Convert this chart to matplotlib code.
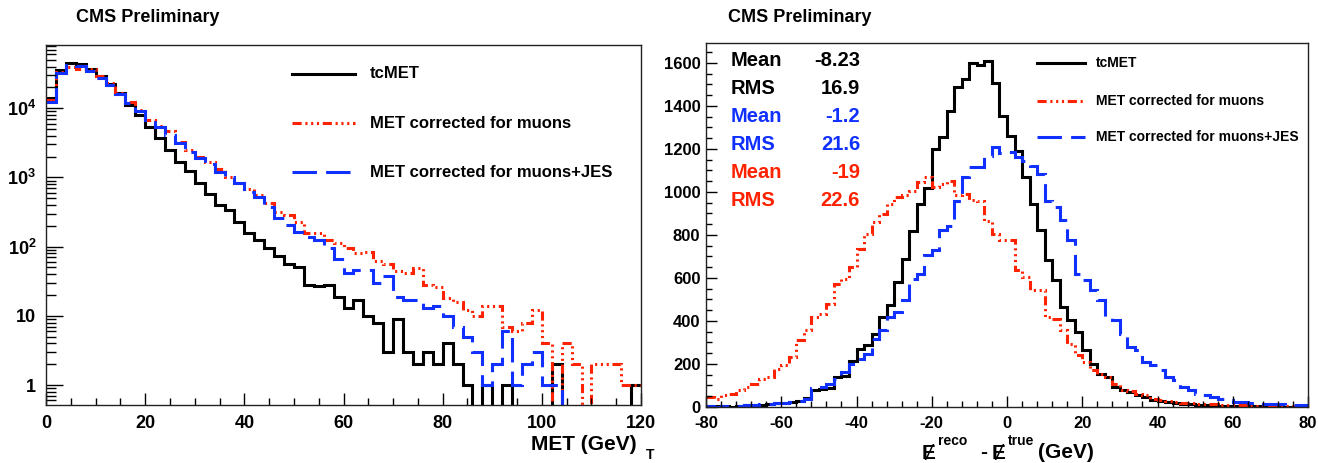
import numpy as np
import matplotlib
matplotlib.use('Agg')
from matplotlib import pyplot as plt
from matplotlib.ticker import MultipleLocator, FixedLocator, FuncFormatter, LogLocator, NullFormatter

plt.rcParams['font.family'] = ['Liberation Sans', 'DejaVu Sans']
plt.rcParams['font.weight'] = 'bold'
plt.rcParams['axes.unicode_minus'] = False
plt.rcParams['mathtext.fontset'] = 'custom'
plt.rcParams['mathtext.rm'] = 'Liberation Sans:bold'
plt.rcParams['mathtext.it'] = 'Liberation Sans:bold'
plt.rcParams['mathtext.bf'] = 'Liberation Sans:bold'

# ---- left panel: MET spectra, 2 GeV bins, 0-120 GeV
met_edges = np.arange(0, 122, 2)
met_tc = [13960, 35800, 44700, 43700, 36600, 29700, 22200, 16500, 11200, 8000,
          5430, 3680, 2500, 1695, 1256, 842, 577, 400, 339, 230,
          156, 125, 95, 72, 56, 51, 28, 27, 28, 19,
          13, 17, 10, 8, 3, 9, 3, 2, 3, 2,
          4, 2, 1, 0, 1, 0, 1, 0, 0, 0,
          0, 2, 0, 0, 0, 0, 0, 0, 0, 1]
met_mu = [13000, 33000, 40000, 37000, 36600, 29000, 23000, 16500, 12500, 9450,
          6780, 5550, 4700, 3300, 2500, 1990, 1680, 1340, 1030, 840,
          690, 560, 420, 320, 285, 228, 155, 155, 125, 112,
          95, 80, 84, 61, 57, 44, 41, 49, 28, 26,
          18, 16, 12, 10, 14, 14, 7, 6, 8, 12,
          4, 0, 4, 2, 0, 2, 2, 2, 1, 1]
met_jes = [12500, 32100, 42300, 41000, 35000, 27200, 21700, 16100, 12100, 9250,
           6780, 5310, 4110, 3120, 2360, 1890, 1570, 1213, 1028, 824,
           624, 528, 379, 257, 206, 165, 140, 125, 95, 66,
           41, 46, 46, 30, 37, 19, 17, 17, 13, 14,
           10, 7, 5, 3, 1, 2, 6, 1, 2, 3,
           1, 1, 0, 0, 0, 0, 0, 0, 0, 0]

# ---- right panel: MET resolution, 2 GeV bins, -80..80 GeV
res_edges = np.arange(-80, 82, 2)
res_tc = [3, 3, 5, 2, 5, 8, 8, 10, 15, 20,
          20, 25, 30, 40, 80, 85, 90, 140, 145, 215,
          270, 290, 340, 420, 475, 580, 690, 820, 945, 1020,
          1200, 1255, 1375, 1490, 1525, 1600, 1590, 1610, 1505, 1355,
          1262, 1193, 1069, 945, 821, 682, 589, 465, 403, 349,
          263, 201, 155, 139, 93, 77, 70, 54, 46, 34,
          28, 23, 19, 15, 12, 10, 8, 8, 6, 5,
          5, 4, 3, 3, 2, 2, 2, 1, 1, 1]
res_mu = [46, 39, 54, 62, 77, 93, 108, 132, 139, 178,
          194, 232, 310, 356, 418, 434, 480, 573, 596, 650,
          736, 805, 860, 898, 945, 976, 984, 1004, 1045, 1069,
          1022, 1038, 1053, 984, 991, 963, 960, 867, 805, 775,
          775, 635, 604, 542, 542, 418, 410, 356, 294, 240,
          209, 170, 155, 139, 108, 77, 74, 62, 54, 39,
          34, 28, 23, 20, 19, 15, 15, 12, 10, 9,
          8, 8, 6, 5, 5, 4, 4, 3, 3, 2]
res_jes = [3, 2, 3, 5, 5, 8, 10, 12, 15, 18,
           20, 22, 26, 39, 90, 95, 105, 132, 163, 201,
           225, 248, 318, 356, 418, 441, 496, 596, 620, 705,
           728, 821, 844, 960, 1069, 1115, 1115, 1169, 1211, 1180,
           1185, 1162, 1146, 1123, 1084, 960, 930, 868, 775, 620,
           589, 542, 496, 418, 403, 341, 279, 263, 209, 194,
           170, 139, 124, 93, 77, 62, 54, 46, 39, 31,
           23, 23, 19, 15, 15, 12, 12, 9, 8, 8]

stats_lines = [('Mean', '-8.23'), ('RMS', '16.9'), ('Mean', '-1.2'),
               ('RMS', '21.6'), ('Mean', '-19'), ('RMS', '22.6')]
legend_labels = ['tcMET', 'MET corrected for muons', 'MET corrected for muons+JES']

c_tc = 'black'
c_mu = '#ff2200'
c_jes = '#1030ff'
ls_tc = '-'
ls_mu = (0, (3, 1.2, 0.7, 1.2, 0.7, 1.2, 0.7, 1.2))
ls_jes = (0, (8, 3))
lw = 2.2
styles = [(c_tc, ls_tc), (c_mu, ls_mu), (c_jes, ls_jes)]

fig = plt.figure(figsize=(13.18, 4.63), dpi=100)
ax1 = fig.add_axes([46/1318, 58/463, 595/1318, 360/463])
ax2 = fig.add_axes([706/1318, 56/463, 602/1318, 364/463])

# left: log plot, empty bins dropped below the frame like ROOT does
for vals, (col, ls) in zip([met_tc, met_mu, met_jes], styles):
	v = np.array(vals, dtype=float)
	v = np.where(v > 0, v, 1e-2)
	ax1.stairs(v, met_edges, baseline=None, color=col, linestyle=ls, lw=lw)
ax1.set_yscale('log')
ax1.set_xlim(0, 120)
ax1.set_ylim(0.514, 8.2e4)
ax1.xaxis.set_major_locator(MultipleLocator(20))
ax1.xaxis.set_minor_locator(MultipleLocator(5))
ax1.yaxis.set_major_locator(FixedLocator([1, 10, 100, 1000, 1e4]))
ax1.yaxis.set_major_formatter(FuncFormatter(
	lambda v, p: {1: '1', 10: '10'}.get(int(round(v)), r'$10^{%d}$' % int(round(np.log10(v))))))
ax1.yaxis.set_minor_locator(LogLocator(base=10, subs=np.arange(2, 10)))
ax1.yaxis.set_minor_formatter(NullFormatter())
ax1.tick_params(axis='both', which='major', direction='in', labelsize=13, pad=7)
ax1.tick_params(axis='y', which='major', length=12, width=1)
ax1.tick_params(axis='y', which='minor', direction='in', length=7, width=1)
ax1.tick_params(axis='x', which='major', length=9, width=1)
ax1.tick_params(axis='x', which='minor', direction='in', length=5, width=1)

# right: linear plot
for vals, (col, ls) in zip([res_tc, res_mu, res_jes], styles):
	ax2.stairs(vals, res_edges, baseline=None, color=col, linestyle=ls, lw=lw)
ax2.set_xlim(-80, 80)
ax2.set_ylim(0, 1693)
ax2.xaxis.set_major_locator(MultipleLocator(20))
ax2.xaxis.set_minor_locator(MultipleLocator(4))
ax2.yaxis.set_major_locator(MultipleLocator(200))
ax2.yaxis.set_minor_locator(MultipleLocator(50))
ax2.tick_params(axis='both', which='major', direction='in', labelsize=12, pad=4, length=8, width=1)
ax2.tick_params(axis='x', which='major', pad=6.5)
ax2.tick_params(axis='both', which='minor', direction='in', length=4, width=1)

for ax in (ax1, ax2):
	for sp in ax.spines.values():
		sp.set_linewidth(1.0)
		sp.set_color('#222222')

# legends drawn by hand (ROOT TLegend without border)
def draw_legend(ax, x0, x1, xt, ys, fs):
	for y, lab, (col, ls) in zip(ys, legend_labels, styles):
		ax.plot([x0, x1], [y, y], transform=ax.transAxes, color=col, linestyle=ls, lw=lw, clip_on=False)
		ax.text(xt, y, lab, transform=ax.transAxes, fontsize=fs, fontweight='bold', va='center', ha='left')

draw_legend(ax1, (292-46)/595, (355-46)/595, (370-46)/595,
	[1-(74-45)/360, 1-(123-45)/360, 1-(172-45)/360], 12)
draw_legend(ax2, (1037-706)/602, (1085-706)/602, (1096-706)/602,
	[1-(63-43)/364, 1-(101-43)/364, 1-(137-43)/364], 10)

# stats box text
stat_cols = [c_tc, c_tc, c_jes, c_jes, c_mu, c_mu]
for i, ((name, val), col) in enumerate(zip(stats_lines, stat_cols)):
	y = 1 - (61 + 27.8*i - 43)/364
	ax2.text((731-706)/602, y, name, transform=ax2.transAxes, color=col, fontsize=14.5, fontweight='bold', va='center', ha='left')
	ax2.text((860-706)/602, y, val, transform=ax2.transAxes, color=col, fontsize=14.5, fontweight='bold', va='center', ha='right')

fig.text(76/1318, 1-18/463, 'CMS Preliminary', fontsize=13, fontweight='bold', va='center', ha='left')
fig.text(728/1318, 1-18/463, 'CMS Preliminary', fontsize=13, fontweight='bold', va='center', ha='left')

# axis titles
fig.text(637/1318, 1-445/463, 'MET (GeV)', fontsize=15, fontweight='bold', va='center', ha='right')
fig.text(650/1318, 1-455/463, 'T', fontsize=10, fontweight='bold', va='center', ha='center')
fig.text(929/1318, 1-453/463, '\u0246', fontsize=15, fontweight='bold', va='center', ha='center')
fig.text(953/1318, 1-441/463, 'reco', fontsize=10, fontweight='bold', va='center', ha='center')
fig.text(984/1318, 1-453/463, '-', fontsize=15, fontweight='bold', va='center', ha='center')
fig.text(999/1318, 1-453/463, '\u0246', fontsize=15, fontweight='bold', va='center', ha='center')
fig.text(1021/1318, 1-441/463, 'true', fontsize=10, fontweight='bold', va='center', ha='center')
fig.text(1066/1318, 1-453/463, '(GeV)', fontsize=15, fontweight='bold', va='center', ha='center')

fig.savefig('out.png', dpi=100)
